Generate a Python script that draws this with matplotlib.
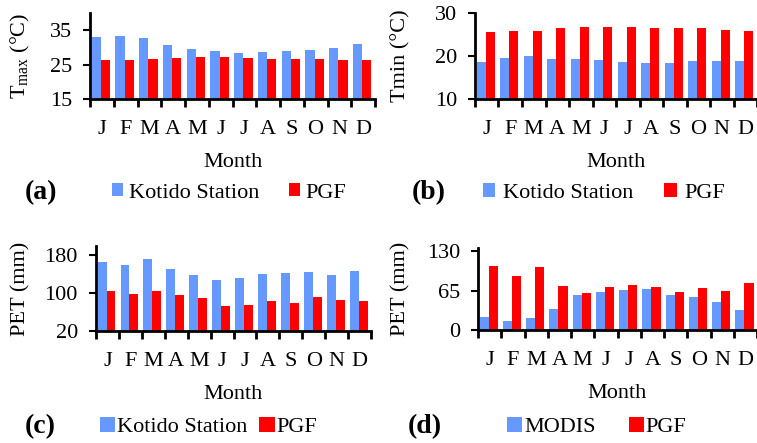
import numpy as np
import matplotlib
matplotlib.use("Agg")
import matplotlib.pyplot as plt
import matplotlib.transforms as mtransforms

plt.rcParams['font.family'] = ['Liberation Serif', 'DejaVu Serif']
plt.rcParams['mathtext.fontset'] = 'custom'
plt.rcParams['mathtext.rm'] = 'Liberation Serif'
plt.rcParams['mathtext.it'] = 'Liberation Serif:italic'

months = ['J', 'F', 'M', 'A', 'M', 'J', 'J', 'A', 'S', 'O', 'N', 'D']

tmax_station = [32.9, 33.4, 32.7, 30.7, 29.5, 29.0, 28.4, 28.6, 29.0, 29.3, 29.7, 31.0]
tmax_pgf = [26.2, 26.4, 26.6, 26.9, 27.3, 27.2, 26.9, 26.5, 26.5, 26.5, 26.4, 26.2]

tmin_station = [18.7, 19.6, 19.9, 19.4, 19.4, 19.1, 18.5, 18.3, 18.4, 18.8, 18.8, 18.8]
tmin_pgf = [25.5, 25.7, 25.9, 26.4, 26.7, 26.8, 26.7, 26.6, 26.6, 26.4, 26.1, 25.9]

pet_station = [167, 159, 173, 152, 139, 129, 133, 140, 142, 146, 138, 148]
pet_pgf = [105, 99, 104, 96, 90, 74, 75, 83, 80, 91, 86, 83]

pet_modis = [22, 14, 20, 34, 57, 62, 66, 67, 57, 55, 46, 33]
pet_pgf2 = [106, 89, 104, 72, 61, 70, 74, 70, 63, 69, 65, 78]

BLUE = '#6699ff'
RED = '#ff0000'

W, H = 757, 443
fig = plt.figure(figsize=(W / 100, H / 100), dpi=100)


def ax_at(l, r, top, bottom):
    return fig.add_axes([l / W, 1 - bottom / H, (r - l) / W, (bottom - top) / H])


panels = [
    dict(box=(90, 375, 13, 99), s1=tmax_station, s2=tmax_pgf, ylim=(15, 40), yt=[15, 25, 35],
         ylabel=r'T$_{\rm max}$ (°C)', names=('Kotido Station', 'PGF'), tag='(a)', tagx=25, ly=193,
         lx=112, hl=0.5, tp=0.25, cs=1.35, ylx=32),
    dict(box=(475, 757, 13, 99), s1=tmin_station, s2=tmin_pgf, ylim=(10, 30), yt=[10, 20, 30],
         ylabel='Tmin (°C)', names=('Kotido Station', 'PGF'), tag='(b)', tagx=412, ly=193,
         lx=483, hl=0.55, tp=0.35, cs=1.4, ylx=410),
    dict(box=(96, 371, 246, 331), s1=pet_station, s2=pet_pgf, ylim=(20, 200), yt=[20, 100, 180],
         ylabel='PET (mm)', names=('Kotido Station', 'PGF'), tag='(c)', tagx=25, ly=427,
         lx=100, hl=0.68, tp=0.08, cs=0.55, ylx=30),
    dict(box=(478, 757, 248, 330), s1=pet_modis, s2=pet_pgf2, ylim=(0, 135), yt=[0, 65, 130],
         ylabel='PET (mm)', names=('MODIS', 'PGF'), tag='(d)', tagx=408, ly=427,
         lx=507, hl=0.68, tp=0.08, cs=1.5, ylx=410),
]

x = np.arange(len(months))
bw = 0.39
for p in panels:
    ax = ax_at(*p['box'])
    b1 = ax.bar(x - 0.235, p['s1'], width=bw, color=BLUE, edgecolor='none')
    b2 = ax.bar(x + 0.155, p['s2'], width=bw, color=RED, edgecolor='none')
    ax.set_xlim(-0.5, len(months) - 0.5)
    ax.set_ylim(*p['ylim'])
    ax.set_yticks(p['yt'])
    ax.set_xticks(x)
    ax.set_xticklabels(months, fontsize=16)
    ax.set_xticks(np.arange(-0.5, len(months)), minor=True)
    ax.tick_params(axis='x', which='major', length=0, pad=15)
    ax.tick_params(axis='x', which='minor', length=6, width=2, direction='out')
    ax.tick_params(axis='y', length=5, width=1.5, labelsize=16, pad=8)
    for s in ('top', 'right'):
        ax.spines[s].set_visible(False)
    for s in ('left', 'bottom'):
        ax.spines[s].set_linewidth(2)
    ax.set_xlabel('Month', fontsize=16, labelpad=10)
    ax.set_ylabel(p['ylabel'], fontsize=16)
    ax.yaxis.label.set_transform(
        mtransforms.blended_transform_factory(fig.transFigure, ax.transAxes))
    ax.yaxis.label.set_position((p['ylx'] / W, 0.5))
    ax.yaxis.set_label_coords(p['ylx'] / W, 0.5,
                              transform=mtransforms.blended_transform_factory(fig.transFigure, ax.transAxes))
    fig.text(p['tagx'] / W, 1 - p['ly'] / H, p['tag'], fontsize=20, fontweight='bold',
             ha='left', va='center')
    ax.legend([b1, b2], p['names'], loc='center left',
              bbox_to_anchor=(p['lx'] / W, 1 - p['ly'] / H), bbox_transform=fig.transFigure,
              ncol=2, frameon=False, fontsize=16, handlelength=p['hl'], handleheight=p['hl'],
              handletextpad=p['tp'], columnspacing=p['cs'], borderpad=0, borderaxespad=0)

fig.savefig('out.png', dpi=100)
